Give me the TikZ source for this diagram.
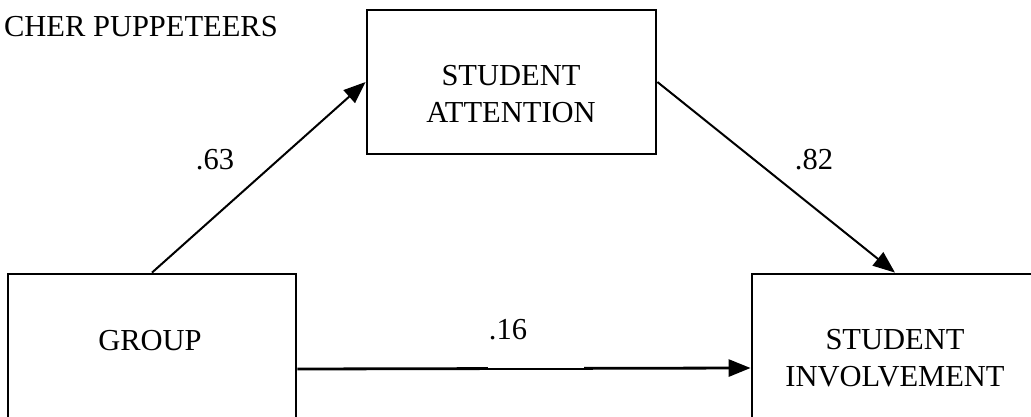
\documentclass[tikz,border=0pt]{standalone}
\usepackage{fontspec}
\setmainfont{Liberation Serif}
\usetikzlibrary{arrows.meta}
\begin{document}
\begin{tikzpicture}[x=1pt,y=-1pt,
  box/.style={draw=black, line width=2.8pt, rectangle, inner sep=0pt},
  txt/.style={inner sep=0pt, align=center, font=\fontsize{30.5}{37}\selectfont},
  coef/.style={inner sep=0pt, font=\fontsize{30.5}{37}\selectfont},
  path/.style={line width=2pt, -{Triangle[length=22pt,width=17pt]}}]
  \useasboundingbox (0,0) rectangle (1031,417);
  \begin{scope}
  \clip (0,0) rectangle (1031,417);

  % heading, partly cut at the left edge
  \node[coef, anchor=base east] (head) at (278,37) {CHER PUPPETEERS};

  % the three variable boxes
  \node[box, minimum width=289pt, minimum height=144pt] (att) at (511.5,82) {};
  \node[box, minimum width=288pt, minimum height=190pt] (grp) at (152,369) {};
  \node[box, minimum width=286pt, minimum height=188pt] (inv) at (895,368) {};

  \node[txt] (atttext) at (511,94.5) {STUDENT\\ATTENTION};
  \node[txt] (grptext) at (150,341) {GROUP};
  \node[txt] (invtext) at (895,358.5) {STUDENT\\INVOLVEMENT};

  % path coefficients
  \draw[path] (grp.north) -- (att.west);
  \draw[path] (att.east) -- (inv.north);
  \draw[path, line width=2.8pt] (grp.east) -- (inv.west);
  \coordinate (gapl) at (488,369);
  \coordinate (gapr) at (584,369);
  \fill[white] ([yshift=-3pt]gapl) rectangle ([yshift=3pt]gapr);
  \draw[line width=1.5pt] (gapl) -- (gapr);

  \node[coef] (c63) at (215,160) {.63};
  \node[coef] (c82) at (814,160) {.82};
  \node[coef] (c16) at (508,330) {.16};
  \end{scope}
\end{tikzpicture}
\end{document}
